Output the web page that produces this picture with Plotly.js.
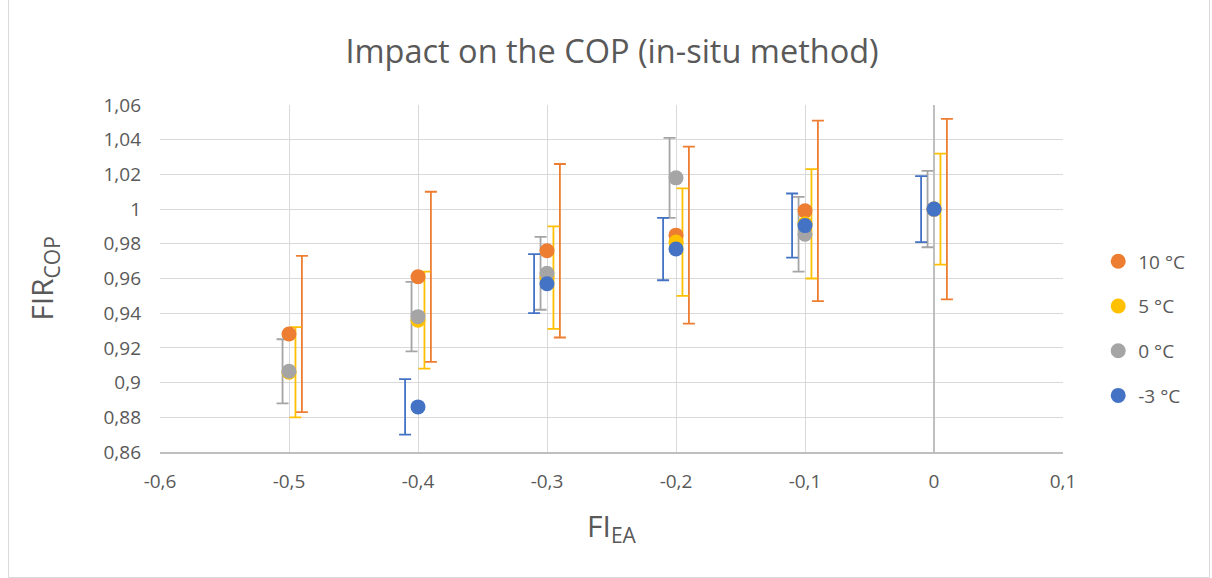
<!DOCTYPE html>
<html>
<head>
<meta charset="utf-8">
<script src="https://cdn.plot.ly/plotly-3.0.1.min.js"></script>
<style>
  html, body { margin: 0; padding: 0; background: #fff; }
  #chart { width: 1212px; height: 578px; }
</style>
</head>
<body>
<div id="chart"></div>
<script>
// ---- data ----
const seriesNames = ['10 °C', '5 °C', '0 °C', '-3 °C'];
const seriesColors = ['#ED7D31', '#FFC000', '#A5A5A5', '#4472C4'];

const x10 = [-0.5, -0.4, -0.3, -0.2, -0.1, 0];
const y10 = [0.928, 0.961, 0.976, 0.985, 0.999, 1.000];
const e10 = [0.045, 0.049, 0.050, 0.051, 0.052, 0.052];

const x5 = [-0.5, -0.4, -0.3, -0.2, -0.1, 0];
const y5 = [0.906, 0.936, 0.9605, 0.981, 0.9915, 1.000];
const e5 = [0.026, 0.028, 0.0295, 0.031, 0.0315, 0.032];

const x0 = [-0.5, -0.4, -0.3, -0.2, -0.1, 0];
const y0 = [0.9065, 0.938, 0.963, 1.018, 0.9855, 1.000];
const e0 = [0.0185, 0.020, 0.021, 0.023, 0.0215, 0.022];

const xm3 = [-0.4, -0.3, -0.2, -0.1, 0];
const ym3 = [0.886, 0.957, 0.977, 0.9905, 1.000];
const em3 = [0.016, 0.017, 0.018, 0.0185, 0.019];

const xTickVals = [-0.6, -0.5, -0.4, -0.3, -0.2, -0.1, 0, 0.1];
const xTickText = ['-0,6', '-0,5', '-0,4', '-0,3', '-0,2', '-0,1', '0', '0,1'];

// ---- presentation ----
const allX = [x10, x5, x0, xm3];
const allY = [y10, y5, y0, ym3];
const allE = [e10, e5, e0, em3];
const barShift = [0.01, 0.005, -0.005, -0.01]; // horizontal offset of each series' error bars

const traces = [];
// error bars (drawn first, behind the points)
for (let i = 0; i < 4; i++) {
  traces.push({
    type: 'scatter', mode: 'markers',
    x: allX[i].map(v => v + barShift[i]),
    y: allY[i],
    marker: { color: 'rgba(0,0,0,0)', size: 1 },
    error_y: { type: 'data', array: allE[i], visible: true, color: seriesColors[i], thickness: 1.8, width: 6 },
    showlegend: false, hoverinfo: 'skip'
  });
}
// points
for (let i = 0; i < 4; i++) {
  traces.push({
    type: 'scatter', mode: 'markers',
    name: seriesNames[i],
    legendgroup: 'g' + i,
    x: allX[i], y: allY[i],
    marker: { color: seriesColors[i], size: 15, line: { width: 0 } }
  });
}

const txt = '#595959';
const layout = {
  width: 1212, height: 578,
  paper_bgcolor: '#ffffff', plot_bgcolor: '#ffffff',
  separators: ', ',
  font: { family: 'Open Sans, sans-serif', color: txt, size: 19 },
  margin: { l: 160, r: 149, t: 105, b: 126 },
  title: {
    text: 'Impact on the COP (in-situ method)',
    font: { size: 32.5, color: txt },
    x: 0.505, xanchor: 'center', y: 0.91, yanchor: 'middle'
  },
  xaxis: {
    range: [-0.6, 0.1],
    tickvals: xTickVals, ticktext: xTickText,
    showgrid: true, gridcolor: '#d9d9d9', gridwidth: 1,
    zeroline: true, zerolinecolor: '#bfbfbf', zerolinewidth: 1.5,
    showline: true, linecolor: '#bfbfbf', linewidth: 1.5,
    ticks: '', ticklabelstandoff: 12,
    tickfont: { size: 19, color: txt },
    title: { text: 'FI<sub>EA</sub>', font: { size: 30, color: txt }, standoff: 22 }
  },
  yaxis: {
    range: [0.86, 1.06], dtick: 0.02, tick0: 0.86,
    showgrid: true, gridcolor: '#d9d9d9', gridwidth: 1,
    zeroline: false, showline: false,
    ticks: '', ticklabelstandoff: 18,
    tickfont: { size: 19, color: txt },
    title: { text: 'FIR<sub>COP</sub>', font: { size: 30, color: txt }, standoff: 40 }
  },
  legend: {
    x: 1.039, xanchor: 'left', y: 0.356, yanchor: 'middle',
    font: { size: 19, color: txt },
    tracegroupgap: 17, bgcolor: 'rgba(0,0,0,0)'
  },
  showlegend: true,
  shapes: [{
    type: 'rect', xref: 'paper', yref: 'paper',
    x0: (8.5 - 160) / 903, x1: (1209.5 - 160) / 903,
    y0: (452 - 577.5) / 347, y1: (452 + 2) / 347,
    line: { color: '#d9d9d9', width: 1 }, fillcolor: 'rgba(0,0,0,0)', layer: 'below'
  }]
};

Plotly.newPlot('chart', traces, layout, { displayModeBar: false, staticPlot: true });
</script>
</body>
</html>
